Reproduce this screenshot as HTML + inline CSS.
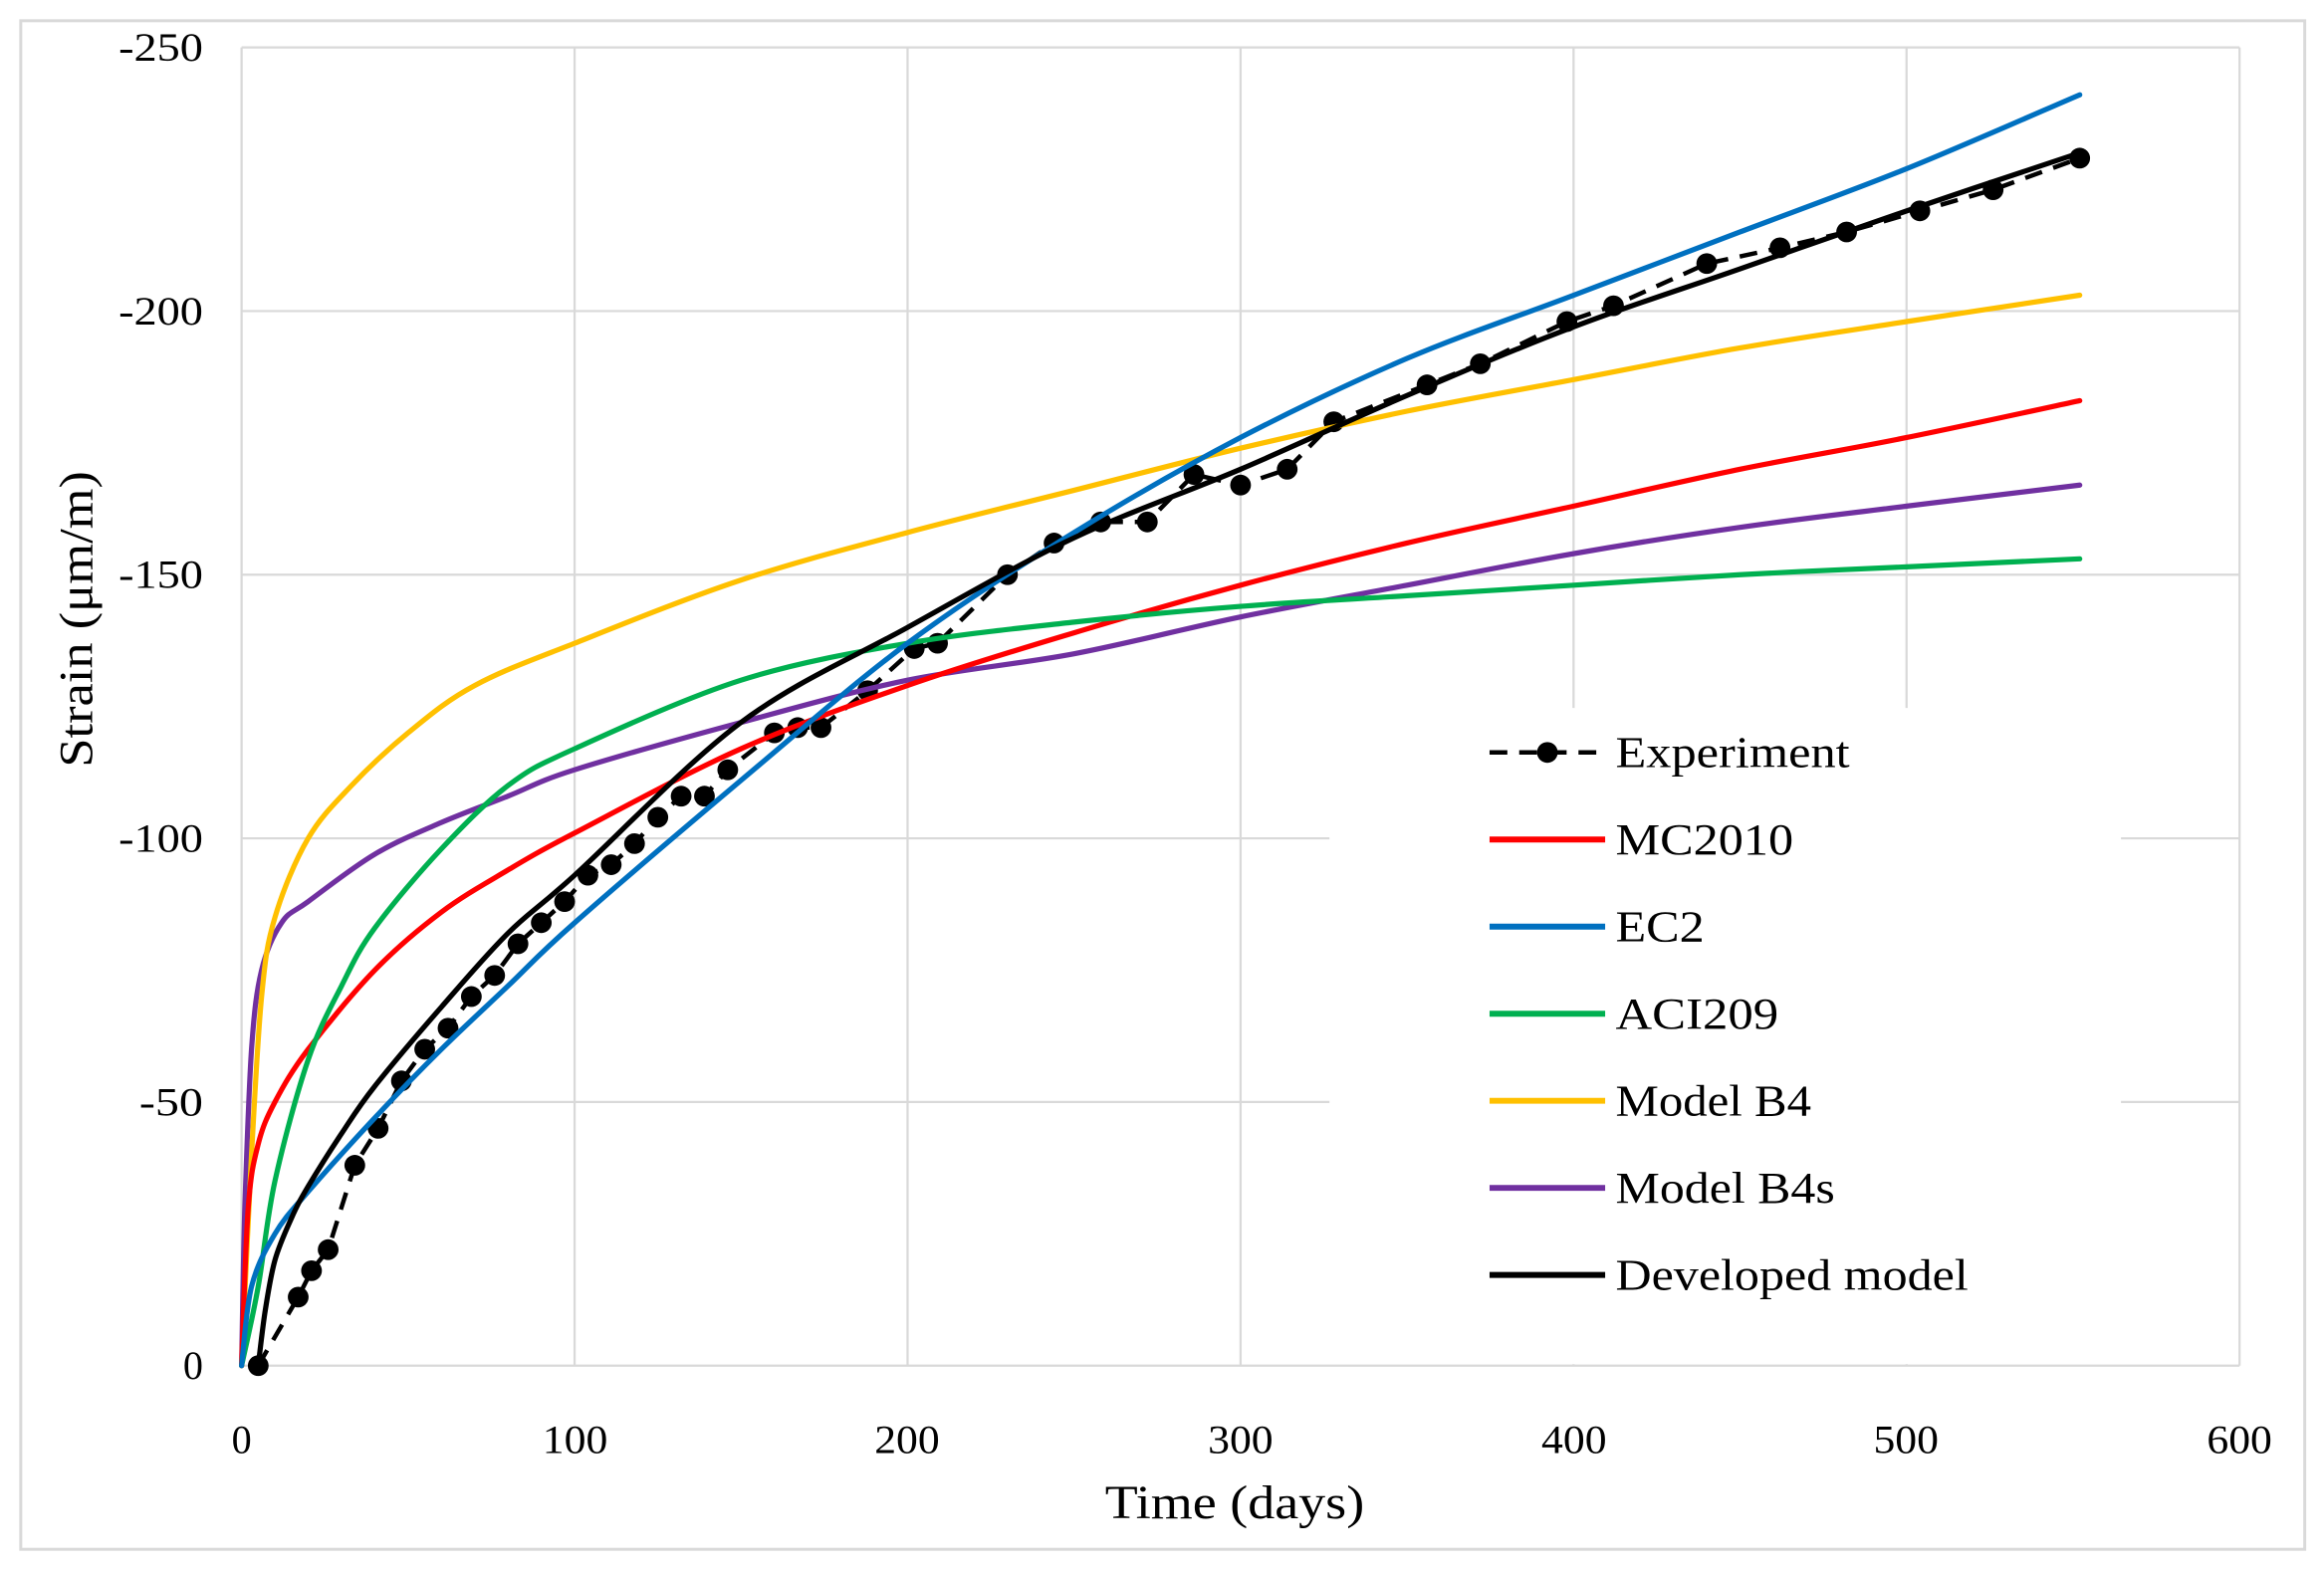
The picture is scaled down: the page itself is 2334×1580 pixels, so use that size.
<!DOCTYPE html>
<html><head><meta charset="utf-8"><style>
html,body{margin:0;padding:0;background:#fff;}
svg{display:block;}
text{font-family:"Liberation Serif",serif;fill:#000;}
</style></head><body>
<svg id="s" width="2334" height="1580" viewBox="0 0 1568 1062" preserveAspectRatio="none" xmlns="http://www.w3.org/2000/svg">
<rect x="0" y="0" width="1568" height="1062" fill="#fff"/>
<rect x="14" y="14" width="1541" height="1032" fill="#fff" stroke="#d9d9d9" stroke-width="2"/>
<g id="grid" stroke="#d9d9d9" stroke-width="1.5"></g>
<g id="series"></g>
<rect x="897" y="478" width="534" height="443" fill="#fff"/>
<g font-size="27" text-anchor="end" lengthAdjust="spacingAndGlyphs">
<text x="137" y="41" textLength="57" lengthAdjust="spacingAndGlyphs">-250</text>
<text x="137" y="219" textLength="57" lengthAdjust="spacingAndGlyphs">-200</text>
<text x="137" y="397" textLength="57" lengthAdjust="spacingAndGlyphs">-150</text>
<text x="137" y="575" textLength="57" lengthAdjust="spacingAndGlyphs">-100</text>
<text x="137" y="753" textLength="43" lengthAdjust="spacingAndGlyphs">-50</text>
<text x="137" y="931">0</text>
</g>
<g font-size="27" text-anchor="middle">
<text x="163" y="981">0</text>
<text x="388" y="981" textLength="44" lengthAdjust="spacingAndGlyphs">100</text>
<text x="612" y="981" textLength="44" lengthAdjust="spacingAndGlyphs">200</text>
<text x="837" y="981" textLength="44" lengthAdjust="spacingAndGlyphs">300</text>
<text x="1062" y="981" textLength="44" lengthAdjust="spacingAndGlyphs">400</text>
<text x="1286" y="981" textLength="44" lengthAdjust="spacingAndGlyphs">500</text>
<text x="1511" y="981" textLength="44" lengthAdjust="spacingAndGlyphs">600</text>
</g>
<text x="833" y="1025" font-size="32" text-anchor="middle" textLength="175" lengthAdjust="spacingAndGlyphs">Time (days)</text>
<text transform="translate(62,418) rotate(-90)" font-size="32" text-anchor="middle" textLength="200" lengthAdjust="spacingAndGlyphs">Strain (μm/m)</text>
<g id="legend" font-size="30"></g>
</svg>
<script>
var ns="http://www.w3.org/2000/svg";
function el(t,a,p){var e=document.createElementNS(ns,t);for(var k in a)e.setAttribute(k,a[k]);p.appendChild(e);return e;}
var g=document.getElementById('grid');
for(var i=0;i<=6;i++){var x=163+i*224.67;el('line',{x1:x,y1:32,x2:x,y2:922},g);}
for(var j=0;j<=5;j++){var y=922-j*178;el('line',{x1:163,y1:y,x2:1511,y2:y},g);}
function X(d){return 163+d*2.2467;}function Y(s){return 922+s*3.56;}
function pts(a){return a.map(function(p){return X(p[0]).toFixed(1)+','+Y(p[1]).toFixed(1);}).join(' ');}
function smooth(a){var P=a.map(function(p){return [X(p[0]),Y(p[1])];});
 var d='M'+P[0][0].toFixed(1)+','+P[0][1].toFixed(1);
 for(var i=0;i<P.length-1;i++){var p0=P[i-1]||P[i],p1=P[i],p2=P[i+1],p3=P[i+2]||P[i+1];
  var c1=[p1[0]+(p2[0]-p0[0])/6,p1[1]+(p2[1]-p0[1])/6],c2=[p2[0]-(p3[0]-p1[0])/6,p2[1]-(p3[1]-p1[1])/6];
  d+=' C'+c1[0].toFixed(1)+','+c1[1].toFixed(1)+' '+c2[0].toFixed(1)+','+c2[1].toFixed(1)+' '+p2[0].toFixed(1)+','+p2[1].toFixed(1);}
 return d;}
var S=document.getElementById('series');
var ser=[
['#7030a0',[[0,0],[1,-30],[3,-60],[6,-75],[12,-84],[20,-88],[40,-97],[60,-103],[80,-108],[100,-113],[150,-122],[200,-130],[250,-135],[300,-142],[350,-148],[400,-154],[450,-159],[500,-163],[552,-167]]],
['#ffc000',[[0,0],[3,-40],[6,-70],[10,-85],[20,-100],[33,-110],[50,-120],[70,-129],[100,-137],[150,-149],[200,-158],[250,-166],[300,-174],[350,-181],[400,-187],[450,-193],[500,-198],[552,-203]]],
['#ff0000',[[0,0],[2,-30],[5,-42],[10,-50],[20,-60],[40,-75],[60,-86],[80,-94],[100,-101],[150,-117],[200,-129],[250,-139],[300,-148],[350,-156],[400,-163],[450,-170],[500,-176],[552,-183]]],
['#00b050',[[0,0],[5,-15],[10,-35],[20,-58],[30,-72],[40,-83],[60,-98],[80,-110],[100,-117],[150,-130],[200,-137],[250,-141],[300,-144],[350,-146],[400,-148],[450,-150],[500,-151.5],[552,-153]]],
['#0070c0',[[0,0],[3,-15],[10,-25],[20,-33],[40,-47],[60,-60],[80,-72],[100,-84],[150,-111],[200,-137],[250,-158],[300,-176],[350,-191],[400,-203],[450,-215],[500,-227],[552,-241]]],
['#000000',[[5,0],[7,-10],[10,-20],[15,-28],[20,-34],[30,-44],[40,-53],[60,-68],[80,-82],[100,-93],[150,-122],[200,-140],[250,-157],[300,-170],[350,-184],[400,-197],[450,-208],[500,-219],[552,-230]]]
];
var exp=[[5,0],[17,-13],[21,-18],[26,-22],[34,-38],[41,-45],[48,-54],[55,-60],[62,-64],[69,-70],[76,-74],[83,-80],[90,-84],[97,-88],[104,-93],[111,-95],[118,-99],[125,-104],[132,-108],[139,-108],[146,-113],[160,-120],[167,-121],[174,-121],[188,-128],[202,-136],[209,-137],[230,-150],[244,-156],[258,-160],[272,-160],[286,-169],[300,-167],[314,-170],[328,-179],[356,-186],[372,-190],[398,-198],[412,-201],[440,-209],[462,-212],[482,-215],[504,-219],[526,-223],[552,-229]];
el('polyline',{points:pts(exp),fill:'none',stroke:'#000','stroke-width':3,'stroke-dasharray':'12,8'},S);
exp.forEach(function(p){el('circle',{cx:X(p[0]),cy:Y(p[1]),r:7,fill:'#000'},S);});
ser.forEach(function(s){el('path',{d:smooth(s[1]),fill:'none',stroke:s[0],'stroke-width':3.5,'stroke-linejoin':'round','stroke-linecap':'round'},S);});
var L=document.getElementById('legend');
var items=[['#000','Experiment',158,1],['#ff0000','MC2010',120],['#0070c0','EC2',60],['#00b050','ACI209',110],['#ffc000','Model B4',132],['#7030a0','Model B4s',148],['#000','Developed model',238]];
items.forEach(function(it,i){var y=508+i*58.8;
 var a={x1:1005,y1:y,x2:1083,y2:y,stroke:it[0],'stroke-width':it[3]?3:4};
 if(it[3])a['stroke-dasharray']='12,8';
 el('line',a,L);
 if(it[3])el('circle',{cx:1044,cy:y,r:7,fill:'#000'},L);
 var t=el('text',{x:1090,y:y+10,textLength:it[2],lengthAdjust:'spacingAndGlyphs'},L);t.textContent=it[1];});
</script>
</body></html>
